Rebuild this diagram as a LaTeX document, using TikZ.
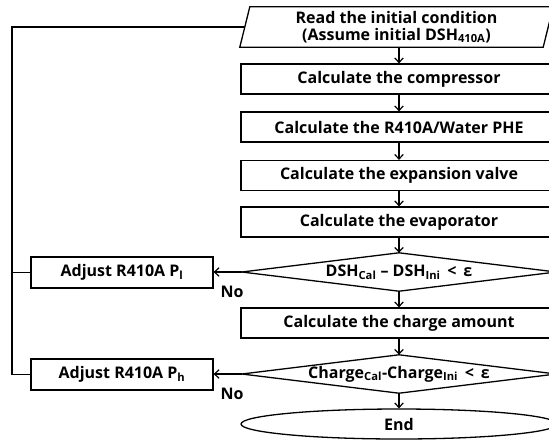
\documentclass[tikz,border=0pt]{standalone}
\usepackage{fontspec}
\setmainfont{Open Sans}
\usetikzlibrary{arrows.meta,shapes.geometric,calc}
\tikzset{
  every node/.style={font=\fontsize{16}{18}\bfseries\selectfont, inner sep=0pt},
  ln/.style={line width=1.3pt, black},
  arr/.style={ln, -{Straight Barb[length=4.5pt,width=8.5pt,line width=1.2pt]}},
  procbox/.style={draw, ln, rectangle, minimum width=316pt, minimum height=30pt},
  adjbox/.style={draw, ln, rectangle, minimum width=182pt, minimum height=31pt},
  diabox/.style={rectangle, minimum width=314pt, minimum height=38pt},
  endbox/.style={draw, ln, ellipse, minimum width=316pt, minimum height=30pt},
  iobox/.style={rectangle, minimum width=313pt, minimum height=40pt, align=center, font=\fontsize{16}{17}\bfseries\selectfont},
  nolab/.style={font=\fontsize{16}{18}\bfseries\selectfont}
}
\begin{document}
\begin{tikzpicture}[x=1pt,y=-1pt]
\useasboundingbox (0,0) rectangle (549,440);
\clip (0,0) rectangle (549,440);
% input parallelogram
\node[iobox] (p) at (396.5,27) {Read the initial condition\\(Assume initial DSH\textsubscript{410A})};
\draw[ln] ([xshift=10pt]p.north west) -- (p.north east) -- ([xshift=-10pt]p.south east) -- (p.south west) -- cycle;
\coordinate (pin) at ($(p.west)+(5,0)$);
% process boxes
\node[procbox] (b1) at (399,79) {Calculate the compressor};
\node[procbox] (b2) at (399,127) {Calculate the R410A/Water PHE};
\node[procbox] (b3) at (399,175.5) {Calculate the expansion valve};
\node[procbox] (b4) at (399,222) {Calculate the evaporator};
\node[diabox] (d1) at (399,272) {DSH\textsubscript{Cal} – DSH\textsubscript{Ini} \,<\, ε};
\draw[ln] (d1.west) -- (d1.north) -- (d1.east) -- (d1.south) -- cycle;
\node[procbox] (b5) at (399,323) {Calculate the charge amount};
\node[diabox] (d2) at (399,374) {Charge\textsubscript{Cal}-Charge\textsubscript{Ini} \,<\, ε};
\draw[ln] (d2.west) -- (d2.north) -- (d2.east) -- (d2.south) -- cycle;
\node[endbox] (e) at (399,424) {End};
% adjust boxes
\node[adjbox] (a1) at (122,272.5) {Adjust R410A P\textsubscript{l}};
\node[adjbox] (a2) at (122,374.5) {Adjust R410A P\textsubscript{h}};
% arrows down
\draw[arr] (p.south -| b1.north) -- (b1.north);
\draw[arr] (b1) -- (b2);
\draw[arr] (b2) -- (b3);
\draw[arr] (b3) -- (b4);
\draw[arr] (b4.south) -- (d1.north);
\draw[arr] (d1.south) -- (b5.north);
\draw[arr] (b5.south) -- (d2.north);
\draw[arr] (d2.south) -- (e.north);
% no branches
\draw[arr] (d1.west) -- (a1.east |- d1.west);
\draw[arr] (d2.west) -- (a2.east |- d2.west);
\node[nolab] (n1) at (232,292) {No};
\node[nolab] (n2) at (232,394) {No};
% loop back
\coordinate (lx) at (12,0);
\draw[ln] (a1.west) -- (a1.west -| lx);
\draw[ln] (a2.west) -- (a2.west -| lx) -- (pin -| lx) -- (pin);
\end{tikzpicture}
\end{document}
